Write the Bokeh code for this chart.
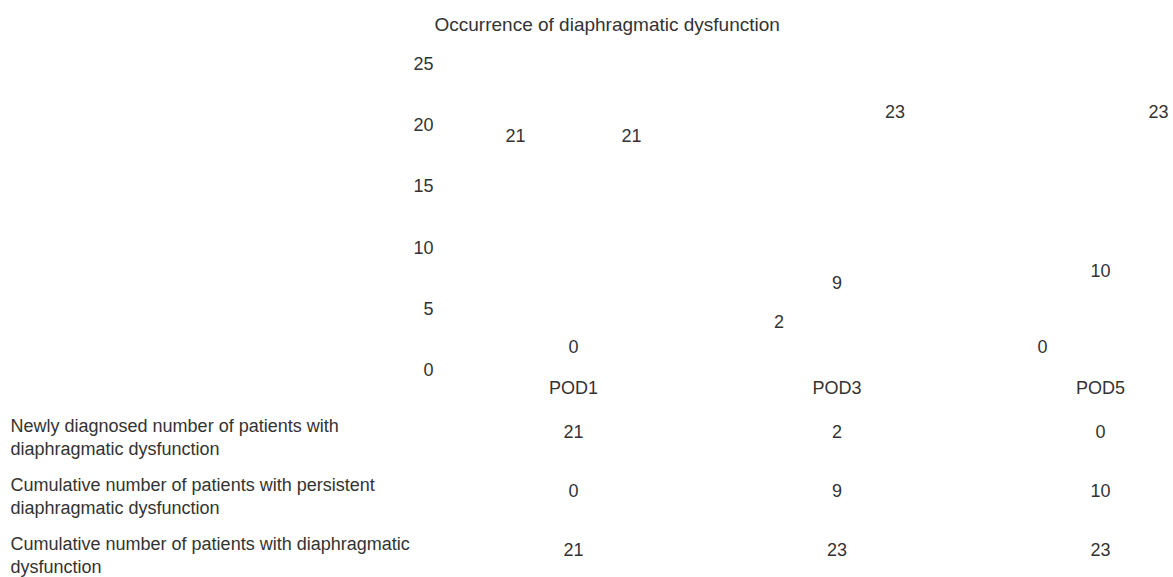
from bokeh.plotting import figure
from bokeh.models import Range1d, FixedTicker, ColumnDataSource
from bokeh.layouts import column
from bokeh.core.properties import value
from bokeh.embed import file_html
from bokeh.resources import INLINE

categories = ["POD1", "POD3", "POD5"]
newly = [21, 2, 0]
persistent = [0, 9, 10]
cumulative = [21, 23, 23]
row_names = [
    "Newly diagnosed number of patients with\ndiaphragmatic dysfunction",
    "Cumulative number of patients with persistent\ndiaphragmatic dysfunction",
    "Cumulative number of patients with diaphragmatic\ndysfunction",
]
y_ticks = [0, 5, 10, 15, 20, 25]

FONT = "Liberation Sans"
COL = "#333333"
FS = "18px"

# ---------------- chart ----------------
p = figure(width=1173, height=400, output_backend="svg", toolbar_location=None,
           x_range=Range1d(-0.5047, 2.277), y_range=Range1d(0, 26.95),
           min_border_left=440, min_border_right=0, min_border_top=39, min_border_bottom=30,
           title="Occurrence of diaphragmatic dysfunction")
p.frame_align = False
p.outline_line_color = None
p.grid.visible = False
p.title.text_font = FONT
p.title.text_font_size = "19px"
p.title.text_font_style = "normal"
p.title.text_color = COL
p.title.offset = -6

xs = list(range(len(categories)))
series = [newly, persistent, cumulative]
offsets = [-0.22, 0.0, 0.22]
for vals, off in zip(series, offsets):
    lab_y = [v - 1.9 if v >= 5 else v + 1.9 for v in vals]
    src = ColumnDataSource(dict(x=[i + off for i in xs], top=vals, ly=lab_y,
                                lab=[str(v) for v in vals]))
    p.vbar(x="x", top="top", width=0.2, source=src, fill_color="white", fill_alpha=0,
           line_color=None)
    p.text(x="x", y="ly", text="lab", source=src, text_align="center", text_baseline="middle",
           text_font_size=FS, text_color=COL, text_font=value(FONT))

for ax in (p.xaxis[0], p.yaxis[0]):
    ax.axis_line_color = None
    ax.major_tick_line_color = None
    ax.minor_tick_line_color = None
    ax.major_label_text_font = FONT
    ax.major_label_text_font_size = FS
    ax.major_label_text_color = COL
    ax.major_tick_out = 0
    ax.major_tick_in = 0

p.xaxis.ticker = FixedTicker(ticks=xs)
p.xaxis.major_label_overrides = {i: c for i, c in zip(xs, categories)}
p.xaxis.major_label_standoff = 8
p.yaxis.ticker = FixedTicker(ticks=y_ticks)
p.yaxis.major_label_standoff = 7

# ---------------- table ----------------
t = figure(width=1173, height=177, output_backend="svg", toolbar_location=None,
           x_range=Range1d(-2.1746, 2.277), y_range=Range1d(577, 400),
           min_border_left=0, min_border_right=0, min_border_top=0, min_border_bottom=0)
t.frame_align = False
t.outline_line_color = None
t.grid.visible = False
t.axis.visible = False

row_top = [425, 484, 543]
line_gap = 23
lx, ly, lt = [], [], []
for r, name in enumerate(row_names):
    for k, line in enumerate(name.split("\n")):
        lx.append(-2.1366)
        ly.append(row_top[r] + k * line_gap)
        lt.append(line)
t.text(x=lx, y=ly, text=lt, text_align="left", text_baseline="alphabetic",
       text_font_size=FS, text_color=COL, text_font=value(FONT))

vx, vy, vt = [], [], []
for r, vals in enumerate(series):
    for i, v in zip(xs, vals):
        vx.append(i)
        vy.append(row_top[r] + line_gap / 2 - 6)
        vt.append(str(v))
t.text(x=vx, y=vy, text=vt, text_align="center", text_baseline="middle",
       text_font_size=FS, text_color=COL, text_font=value(FONT))

layout = column(p, t, spacing=0)
open("out.html", "w").write(file_html(layout, INLINE))
